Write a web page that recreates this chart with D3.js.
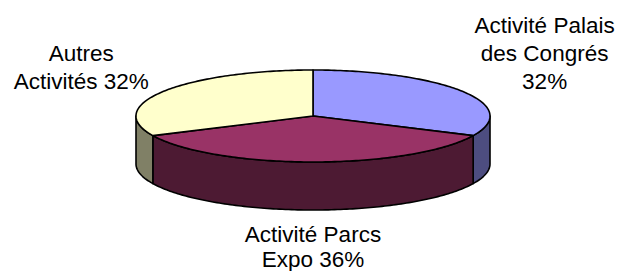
<!DOCTYPE html>
<html>
<head>
<meta charset="utf-8">
<script src="https://cdn.jsdelivr.net/npm/d3@7"></script>
<style>
  body { margin: 0; background: #fff; }
  svg { display: block; }
  text { font-family: "Liberation Sans", Arial, sans-serif; font-size: 22.5px; fill: #000; }
</style>
</head>
<body>
<div id="chart"></div>
<script>
// data
const categories = ["Activité Palais des Congrés", "Activité Parcs Expo", "Autres Activités"];
const labelLines = [["Activité Palais", "des Congrés", "{p}"], ["Activité Parcs", "Expo {p}"], ["Autres", "Activités {p}"]];
const values = [32, 36, 32];
const colors = ["#9999FF", "#993366", "#FFFFCC"];

const width = 623, height = 271;
const cx = 313, cy = 116, rx = 177, ry = 46, depth = 48;

let svg = d3.select("#chart")
    .append("svg")
    .attr("width", width)
    .attr("height", height);

let pie = d3.pie().sort(null).value(d => d);
let arcs = pie(values);
let total = d3.sum(values);

// point on the ellipse, angle clockwise from 12 o'clock
const pt = (a, dy = 0) => [cx + rx * Math.sin(a), cy - ry * Math.cos(a) + dy];

const arcPoints = (a0, a1, dy = 0) => {
    let n = Math.max(2, Math.ceil((a1 - a0) / (Math.PI / 180)));
    return d3.range(n + 1).map(i => pt(a0 + (a1 - a0) * i / n, dy));
}

let line = d3.line();
let sideColor = c => { let r = d3.rgb(c); return d3.rgb(r.r / 2, r.g / 2, r.b / 2).formatHex(); }

// outer walls, only the front half is visible
let front0 = Math.PI / 2, front1 = Math.PI * 1.5;
let walls = svg.append("g");
arcs.forEach((d, i) => {
    let a0 = Math.max(d.startAngle, front0), a1 = Math.min(d.endAngle, front1);
    if (a1 <= a0) return;
    let top = arcPoints(a0, a1);
    let bottom = arcPoints(a0, a1, depth).reverse();
    walls.append("path")
        .attr("d", line(top.concat(bottom)) + "Z")
        .attr("fill", sideColor(colors[i]))
        .attr("stroke", "#000")
        .attr("stroke-width", 1.6)
        .attr("stroke-linejoin", "round");
});

// top faces
let tops = svg.append("g");
arcs.forEach((d, i) => {
    let pts = [[cx, cy]].concat(arcPoints(d.startAngle, d.endAngle));
    tops.append("path")
        .attr("d", line(pts) + "Z")
        .attr("fill", colors[i])
        .attr("stroke", "#000")
        .attr("stroke-width", 1.6)
        .attr("stroke-linejoin", "round");
});

// labels
let labels = svg.append("g").attr("text-anchor", "middle");
arcs.forEach((d, i) => {
    let mid = (d.startAngle + d.endAngle) / 2;
    let pct = Math.round(d.value / total * 100) + "%";
    let lines = labelLines[i].map(s => s.replace("{p}", pct));
    let x = cx + rx * 1.55 * Math.sin(mid);
    let y0, lh;
    if (Math.cos(mid) >= 0) {
        lh = 28;
        y0 = cy - 50 * Math.cos(mid) - (lines.length - 1) * lh;
    } else {
        lh = 25;
        y0 = cy - (ry + 32) * Math.cos(mid) + depth;
    }
    let t = labels.append("text").attr("x", x).attr("y", y0);
    lines.forEach((s, j) => {
        t.append("tspan").attr("x", x).attr("y", y0 + j * lh).text(s);
    });
});
</script>
</body>
</html>
